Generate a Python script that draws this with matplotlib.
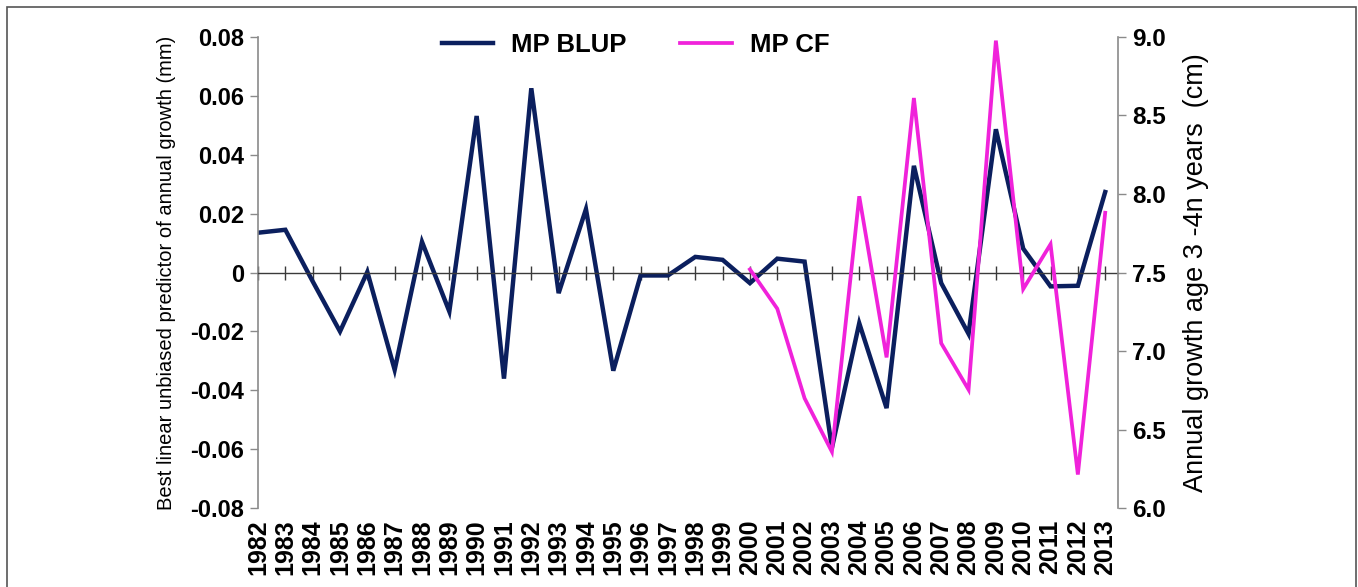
import numpy as np
import matplotlib
matplotlib.use("Agg")
import matplotlib.pyplot as plt
from matplotlib.patches import Rectangle

plt.rcParams["font.family"] = ["Liberation Sans", "DejaVu Sans"]

# Annual series
years = list(range(1982, 2014))
blup = [0.0135, 0.0145, -0.0030, -0.0200, 0.0002, -0.0330, 0.0104, -0.0132,
        0.0531, -0.0360, 0.0625, -0.0070, 0.0215, -0.0333, -0.0010, -0.0010,
        0.0053, 0.0043, -0.0036, 0.0047, 0.0037, -0.0595, -0.0172, -0.0460,
        0.0362, -0.0036, -0.0208, 0.0486, 0.0081, -0.0047, -0.0045, 0.0273]
cf_years = list(range(2000, 2014))
cf = [7.52, 7.27, 6.70, 6.36, 7.985, 6.96, 8.61, 7.05, 6.755, 8.975,
      7.395, 7.68, 6.215, 7.88]

left_ticks = [-0.08, -0.06, -0.04, -0.02, 0, 0.02, 0.04, 0.06, 0.08]
right_ticks = [6.0, 6.5, 7.0, 7.5, 8.0, 8.5, 9.0]

navy = "#0b1f5e"
magenta = "#f022da"
spine_grey = "#8a8a8a"

fig = plt.figure(figsize=(13.58, 5.87), dpi=100)
ax = fig.add_axes([0.19, 0.134, 0.6335, 0.8035])
ax2 = ax.twinx()

l1, = ax.plot(years, blup, color=navy, lw=3.2, solid_joinstyle="miter")
l2, = ax2.plot(cf_years, cf, color=magenta, lw=2.7, solid_joinstyle="miter")

ax.set_xlim(1982, 2013.48)
ax.set_ylim(-0.08, 0.08)
ax2.set_ylim(6.0, 9.0)

# x axis drawn through zero with ticks crossing it
ax.spines["bottom"].set_position(("data", 0))
ax.spines["bottom"].set_color("#3a3a3a")
ax.spines["bottom"].set_linewidth(1.0)
ax.spines["top"].set_visible(False)
ax.spines["right"].set_visible(False)
ax.spines["left"].set_color(spine_grey)
ax.spines["left"].set_linewidth(1.2)
ax.set_xticks(years)
ax.tick_params(axis="x", direction="inout", length=10, width=1.0,
               color="#3a3a3a", labelbottom=False)

ax.set_yticks(left_ticks)
ax.set_yticklabels([f"{v:g}" for v in left_ticks])
ax.tick_params(axis="y", direction="out", length=6, width=1.0,
               color=spine_grey, labelsize=17, pad=4)
for t in ax.get_yticklabels():
    t.set_fontweight("bold")

for side in ["left", "top", "bottom"]:
    ax2.spines[side].set_visible(False)
ax2.spines["right"].set_color(spine_grey)
ax2.spines["right"].set_linewidth(1.2)
ax2.set_yticks(right_ticks)
ax2.set_yticklabels([f"{v:.1f}" for v in right_ticks])
ax2.tick_params(axis="y", direction="out", length=6, width=1.0,
                color=spine_grey, labelsize=17.5, pad=4)
for t in ax2.get_yticklabels():
    t.set_fontweight("bold")

# year labels along the bottom edge
sec = ax.secondary_xaxis("bottom")
sec.set_xticks(years)
sec.set_xticklabels([str(y) for y in years], rotation=90, fontsize=18,
                    fontweight="bold")
sec.tick_params(length=0, pad=8)
sec.spines["bottom"].set_visible(False)

ax.set_ylabel("Best linear unbiased predictor of annual growth (mm)",
              fontsize=14.5, labelpad=10)
ax2.set_ylabel("Annual growth age 3 -4n years  (cm)", fontsize=19.5,
               labelpad=12)

fig.legend([l1, l2], ["MP BLUP", "MP CF"], loc="center",
           bbox_to_anchor=(0.468, 0.923), ncol=2, frameon=False,
           prop={"size": 18.5, "weight": "bold"}, handlelength=2.0,
           handletextpad=0.7, columnspacing=2.1)

# outer frame around the figure
fig.patches.append(Rectangle((0.0052, -0.05), 0.9931, 1.0386,
                             transform=fig.transFigure, fill=False,
                             edgecolor="#555555", lw=1.2))

fig.savefig("out.png", dpi=100)
